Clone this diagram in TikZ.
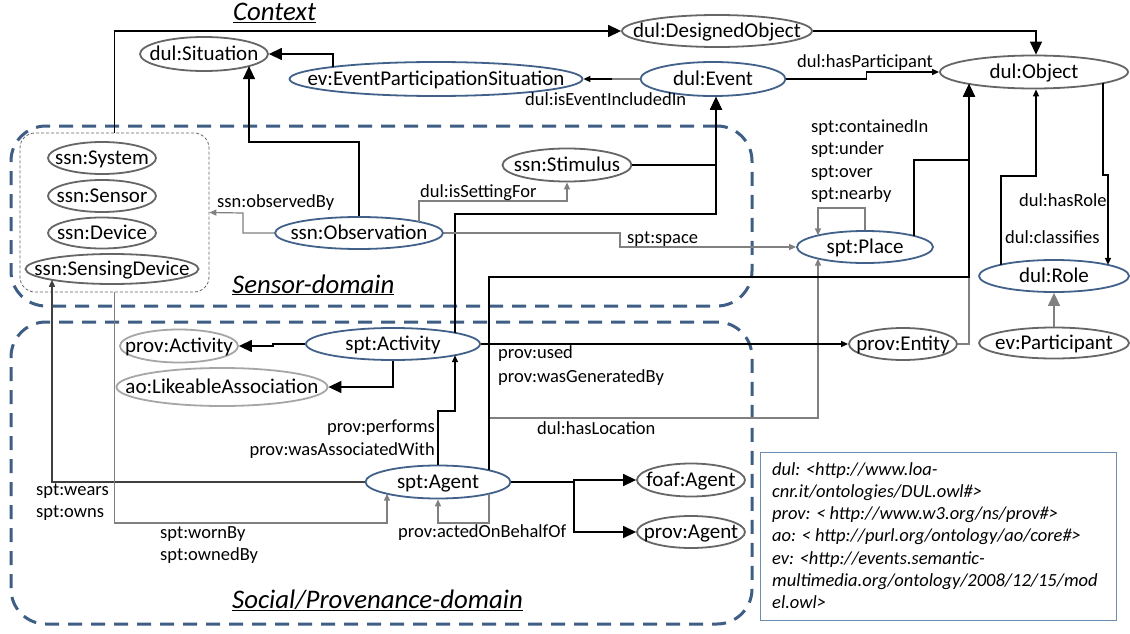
\documentclass[tikz,border=0pt]{standalone}
\usepackage{fontspec}
\setmainfont{Carlito}
\usetikzlibrary{shapes.geometric,arrows.meta,calc}

\definecolor{nodeblue}{HTML}{41618A}
\definecolor{nodegray}{HTML}{666666}
\definecolor{nodelight}{HTML}{A6A6A6}
\definecolor{linkgray}{HTML}{808080}
\definecolor{domainblue}{HTML}{3F5E85}
\definecolor{nsframe}{HTML}{6A8DB0}

% class names are set in a zero-width box so that the ellipse keeps its given size
\newcommand{\cname}[1]{\makebox[0pt]{#1}}

\begin{document}
\begin{tikzpicture}[x=1pt,y=-1pt,
  cls/.style={ellipse,draw,line width=1.8pt,inner sep=0pt,text height=14pt,text depth=1.5pt,
              font=\fontsize{21}{24}\selectfont},
  bcls/.style={cls,draw=nodeblue},
  gcls/.style={cls,draw=nodegray},
  lcls/.style={cls,draw=nodelight},
  lbl/.style={anchor=base west,inner sep=0pt,font=\fontsize{18.5}{22}\selectfont},
  rlbl/.style={lbl,anchor=base east},
  titletext/.style={anchor=base west,inner sep=0pt,font=\fontsize{26.8}{32}\selectfont\itshape},
  domainbox/.style={draw=domainblue,line width=3pt,dash pattern=on 14pt off 9pt,
                 rounded corners=35pt,inner sep=0pt},
  link/.style={line width=1.4pt,black},
  glink/.style={line width=1.2pt,linkgray},
  bigtip/.style={-{Triangle[length=13pt,width=12pt]}},
  smalltip/.style={-{Triangle[length=7pt,width=6pt]}}
]
\fill[white] (0,0) rectangle (1130,634);
\useasboundingbox (0,0) rectangle (1130,634);

% ---- domain frames ----
\node[domainbox,minimum width=741pt,minimum height=180pt] (sensorbox) at (381.5,216) {};
\node[domainbox,minimum width=741pt,minimum height=302pt] (socialbox) at (381.5,473) {};
\node[draw=nodegray,line width=0.8pt,dash pattern=on 3pt off 2pt,rounded corners=15pt,
      minimum width=189pt,minimum height=159pt,inner sep=0pt] (sbox) at (114.5,212.5) {};

\node[titletext] (ctxtitle) at (233,21) {\underline{Context}};
\node[titletext] (sensortitle) at (232,293) {\underline{Sensor-domain}};
\node[titletext] (socialtitle) at (232,608) {\underline{Social/Provenance-domain}};

% ---- classes ----
\node[gcls,minimum width=128pt,minimum height=34pt] (sit) at (204,54) {\cname{dul:Situation}};
\node[bcls,minimum width=293pt,minimum height=34pt] (eps) at (436,79) {\cname{ev:EventParticipationSituation}};
\node[gcls,minimum width=190pt,minimum height=32pt] (dobj) at (717,31) {\cname{dul:DesignedObject}};
\node[bcls,minimum width=145pt,minimum height=34pt] (ev) at (713,79) {\cname{dul:Event}};
\node[gcls,minimum width=188pt,minimum height=33pt] (obj) at (1034,72) {\cname{dul:Object}};
\node[gcls,minimum width=108pt,minimum height=32pt] (sys) at (102,158) {\cname{ssn:System}};
\node[gcls,minimum width=108pt,minimum height=32pt] (sen) at (102,196) {\cname{ssn:Sensor}};
\node[gcls,minimum width=108pt,minimum height=31pt] (dev) at (102,233) {\cname{ssn:Device}};
\node[gcls,minimum width=173pt,minimum height=30pt] (sdev) at (112,269) {\cname{ssn:SensingDevice}};
\node[gcls,minimum width=129pt,minimum height=33pt] (stim) at (567,165) {\cname{ssn:Stimulus}};
\node[bcls,minimum width=168pt,minimum height=32pt] (obs) at (359,233) {\cname{ssn:Observation}};
\node[bcls,minimum width=136pt,minimum height=32pt] (place) at (865,247) {\cname{spt:Place}};
\node[bcls,minimum width=150pt,minimum height=32pt] (role) at (1054,276) {\cname{dul:Role}};
\node[gcls,minimum width=150pt,minimum height=31pt] (part) at (1054,343) {\cname{ev:Participant}};
\node[gcls,minimum width=108pt,minimum height=32pt] (ent) at (903,344) {\cname{prov:Entity}};
\node[bcls,minimum width=174pt,minimum height=32pt] (act) at (393,344) {\cname{spt:Activity}};
\node[lcls,minimum width=118pt,minimum height=33pt] (pact) at (179,346) {\cname{prov:Activity}};
\node[lcls,minimum width=211pt,minimum height=38pt] (ao) at (222,387) {\cname{ao:LikeableAssociation}};
\node[bcls,minimum width=145pt,minimum height=33pt] (agent) at (438,482) {\cname{spt:Agent}};
\node[gcls,minimum width=108pt,minimum height=33pt] (foaf) at (691,480) {\cname{foaf:Agent}};
\node[gcls,minimum width=108pt,minimum height=32pt] (pagent) at (691,532) {\cname{prov:Agent}};

% ---- junctions ----
\coordinate (evmid) at (612,79);
\coordinate (objjoin) at (969,277);
\coordinate (locjoin) at (489,418);

% ---- relations ----
\draw[link,bigtip] (sbox.north) |- (dobj.west);
\draw[glink] (ev.west) -- (evmid);
\draw[link,smalltip] (evmid) -- (eps.east);
\draw[link,bigtip] ($(eps.center)+(-103,-12.1)$) |- (sit.east);
\draw[link,bigtip] (obs.north) |- (249,142) -- ($(sit.center)+(45,12.1)$);
\draw[link,bigtip] (dobj.east) -| ($(obj.north)+(2,0)$);
\draw[link,smalltip] (ev.east) -- ++(80,0) |- (obj.west);
\draw[link,bigtip] (stim.east) -| ($(ev.south)+(3,0)$);
\draw[link,bigtip] ($(act.center)+(62,-11.2)$) |- (716,214) -- ($(ev.south)+(3,0)$);
\draw[glink,smalltip] ($(obs.center)+(60,-11.2)$) -- (419,201) -| (stim.south);
\draw[glink,smalltip] (obs.west) -| (243,213) -- (sbox.east);
\draw[glink,smalltip] (obs.east) -| (620,247) -- (place.west);
\draw[glink] (ent.east) -| (objjoin);
\draw[glink,smalltip] (locjoin) -| ($(place.center)+(-47,11.6)$);
\draw[link,bigtip] ($(place.center)+(49,-11.1)$) |- (969,160) -- ($(obj.center)+(-65,11.9)$);
\draw[link,bigtip] ($(agent.center)+(51,-11.7)$) |- (objjoin) -- ($(obj.center)+(-65,11.9)$);
\draw[glink,smalltip] (place.north) |- (818,208) -- ($(place.center)+(-47,-11.6)$);
\draw[link,smalltip] ($(role.center)+(-53,-11.3)$) |- (1036,176) -- ($(obj.south)+(2,0)$);
\draw[link,smalltip] ($(obj.center)+(69,11.2)$) |- (1108,175) -- ($(role.center)+(54,-11.1)$);
\draw[glink,line width=1.4pt,bigtip] (part.north) -- (role.south);
\draw[link,smalltip] (act.east) -- (ent.west);
\draw[link,bigtip] (act.west) -| (273,346) -- (pact.east);
\draw[link,bigtip] (act.south) |- (ao.east);
\draw[link,smalltip] (agent.north) |- (455,411) -- ($(act.center)+(62,11.2)$);
\draw[link,bigtip] (agent.east) -| (574,480) -- (foaf.west);
\draw[link,bigtip] (agent.east) -| (574,532) -- (pagent.west);
\draw[glink,smalltip] ($(agent.center)+(51,11.7)$) |- (438,523) -- (agent.south);
\draw[link,black!75,smalltip] (agent.west) -| ($(sdev.center)+(-60,10.8)$);
\draw[glink,smalltip] (sbox.south) |- (387,523) -- ($(agent.center)+(-51,11.7)$);

% ---- relation labels ----
\node[lbl] (lincl) at (525,106) {dul:isEventIncludedIn};
\node[lbl] (lpart) at (797,68) {dul:hasParticipant};
\node[lbl] (lcont) at (811,132) {spt:containedIn};
\node[lbl] (lunder) at (811,154.5) {spt:under};
\node[lbl] (lover) at (811,177) {spt:over};
\node[lbl] (lnear) at (811,199.5) {spt:nearby};
\node[lbl] (lrole) at (1019,206) {dul:hasRole};
\node[lbl] (lclass) at (1005,243) {dul:classifies};
\node[lbl] (lobsby) at (217,207) {ssn:observedBy};
\node[lbl] (lsetting) at (420,197) {dul:isSettingFor};
\node[lbl] (lspace) at (627,243) {spt:space};
\node[lbl] (lused) at (498,358) {prov:used};
\node[lbl] (lgen) at (498,382) {prov:wasGeneratedBy};
\node[rlbl] (lperf) at (435,432) {prov:performs};
\node[rlbl] (lassoc) at (435,455) {prov:wasAssociatedWith};
\node[lbl] (lloc) at (537,434) {dul:hasLocation};
\node[lbl] (lbehalf) at (398,537) {prov:actedOnBehalfOf};
\node[lbl] (lwears) at (36,495) {spt:wears};
\node[lbl] (lowns) at (36,517) {spt:owns};
\node[lbl] (lworn) at (160,538) {spt:wornBy};
\node[lbl] (lowned) at (160,560) {spt:ownedBy};

% ---- namespace legend ----
\node[draw=nsframe,line width=1pt,minimum width=356pt,minimum height=168pt,inner sep=0pt] (nsbox) at (938,536) {};
\node[anchor=north west,align=left,inner sep=0pt,font=\fontsize{18.5}{22.2}\selectfont\itshape] (nstext) at (772,459.5)
  {\strut dul: <http://www.loa-\\
   cnr.it/ontologies/DUL.owl\#>\\
   prov: < http://www.w3.org/ns/prov\#>\\
   ao: < http://purl.org/ontology/ao/core\#>\\
   ev: <http://events.semantic-\\
   multimedia.org/ontology/2008/12/15/mod\\
   el.owl>};
\end{tikzpicture}
\end{document}
